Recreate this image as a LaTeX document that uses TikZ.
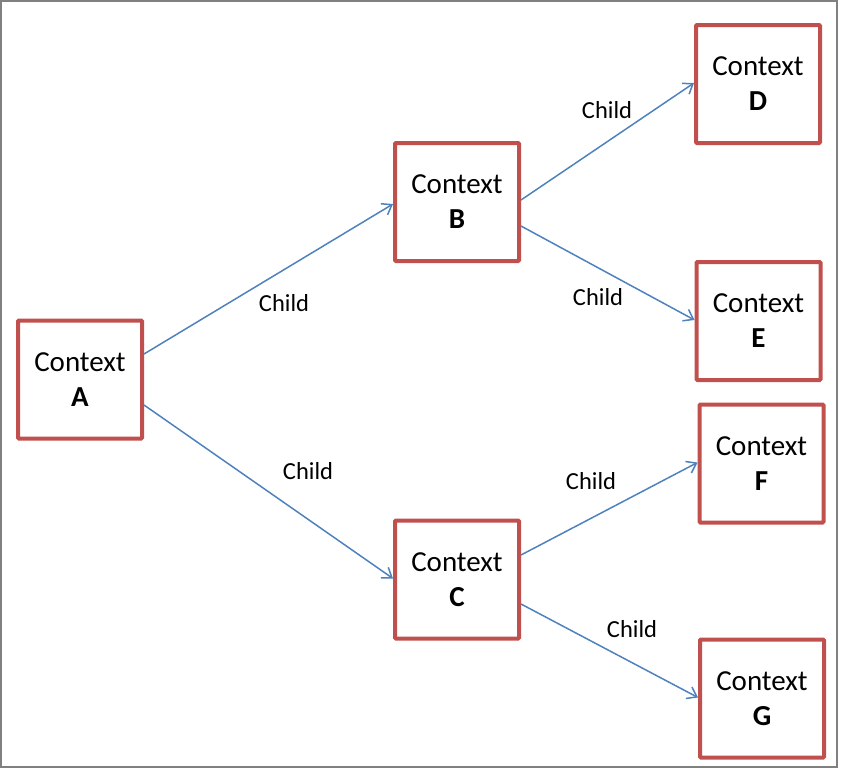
\documentclass[tikz,border=0pt]{standalone}
\usepackage{fontspec}
\setmainfont{Carlito}
\usetikzlibrary{arrows.meta,positioning}
\definecolor{boxred}{HTML}{C0504D}
\definecolor{linkblue}{HTML}{4F81BD}
\tikzset{
    >={Straight Barb[length=9pt,width=13pt]},
    context/.style={rectangle,draw=boxred,line width=4pt,rounded corners=1pt,
        minimum width=124pt,minimum height=118pt,inner sep=0pt,align=center,
        font=\fontsize{29}{35}\selectfont},
    link/.style={->,draw=linkblue,line width=1.5pt},
    lbl/.style={font=\fontsize{24.5}{28}\selectfont,inner sep=0pt}
}
\begin{document}
\begin{tikzpicture}[x=1pt,y=-1pt]
        \useasboundingbox (0,0) rectangle (841,769);
        \draw[gray,line width=2pt] (1,1) rectangle (837,767);

        % Context boxes
        \node[context] (A) at (80,379.5) {Context\\\textbf{A}};
        \node[context] (B) at (457,202) {Context\\\textbf{B}};
        \node[context] (C) at (457,579.5) {Context\\\textbf{C}};
        \node[context] (D) at (758,84) {Context\\\textbf{D}};
        \node[context] (E) at (758.5,321) {Context\\\textbf{E}};
        \node[context] (F) at (761.5,463.5) {Context\\\textbf{F}};
        \node[context] (G) at (762,698.5) {Context\\\textbf{G}};

        % Child links
        \draw[link] ([yshift=25.5pt]A.east) -- ([yshift=-2pt]B.west);
        \draw[link] ([yshift=-25.5pt]A.east) -- ([yshift=1pt]C.west);
        \draw[link] ([yshift=2pt]B.east) -- ([yshift=1pt]D.west);
        \draw[link] ([yshift=-24pt]B.east) -- ([yshift=1pt]E.west);
        \draw[link] ([yshift=24.5pt]C.east) -- ([yshift=1pt]F.west);
        \draw[link] ([yshift=-24.5pt]C.east) -- ([yshift=1pt]G.west);

        % Labels
        \node[lbl] (ab) at (284,303) {Child};
        \node[lbl] (ac) at (308,471) {Child};
        \node[lbl] (bd) at (607,110) {Child};
        \node[lbl] (be) at (598,297) {Child};
        \node[lbl] (cf) at (591,481) {Child};
        \node[lbl] (cg) at (632,629) {Child};
    \end{tikzpicture}
\end{document}
